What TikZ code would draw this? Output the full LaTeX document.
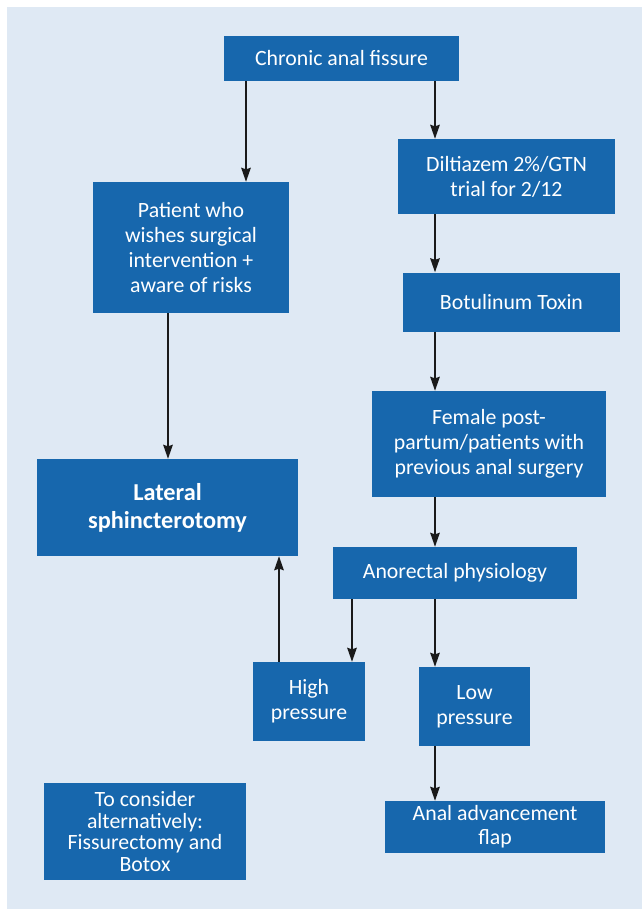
\documentclass[tikz,border=0pt]{standalone}
\usepackage{fontspec}
\setmainfont{Carlito}
\usetikzlibrary{arrows.meta}
\definecolor{bgpanel}{HTML}{DFE9F4}
\definecolor{boxblue}{HTML}{1767AD}
\definecolor{arrcol}{HTML}{1A1A1A}
\begin{document}
\begin{tikzpicture}[x=1pt,y=-1pt,
  box/.style={fill=boxblue, text=white, align=center, inner sep=0pt, font=\fontsize{21.8}{25.2}\selectfont},
  arr/.style={draw=arrcol, line width=1.8pt, -{Stealth[length=14pt,width=9.5pt,inset=1.5pt]}}]
\useasboundingbox (0,0) rectangle (642,909);
\fill[white] (0,0) rectangle (642,909);
\fill[bgpanel] (7,7) rectangle (642,909);

\node[box, minimum width=235pt, minimum height=45pt] (chronic) at (341.5,58.5) {Chronic anal fissure};
\node[box, minimum width=217pt, minimum height=75pt] (dilt) at (506.5,176.5) {Diltiazem 2\%/GTN\\trial for 2/12};
\node[box, minimum width=196pt, minimum height=131pt] (patient) at (191,247.5) {Patient who\\wishes surgical\\intervention +\\aware of risks};
\node[box, minimum width=217pt, minimum height=59pt] (botox) at (511.5,302) {Botulinum Toxin};
\node[box, minimum width=234pt, minimum height=106pt] (female) at (489,444) {Female post-\\partum/patients with\\previous anal surgery};
\node[box, minimum width=261pt, minimum height=97pt, font=\fontsize{24.3}{28}\selectfont\bfseries] (lateral) at (167.5,507.5) {Lateral\\sphincterotomy};
\node[box, minimum width=244pt, minimum height=52pt] (anorectal) at (455,573) {Anorectal physiology};
\node[box, minimum width=112pt, minimum height=79pt] (high) at (309,701.5) {High\\pressure};
\node[box, minimum width=111pt, minimum height=79pt] (low) at (474.5,706.5) {Low\\pressure};
\node[box, minimum width=220pt, minimum height=52pt, font=\fontsize{21.8}{24}\selectfont] (flap) at (495,827) {Anal advancement\\flap};
\node[box, minimum width=202pt, minimum height=97pt, font=\fontsize{21.8}{21.5}\selectfont] (consider) at (145,831.5) {To consider\\alternatively:\\Fissurectomy and\\Botox};

\coordinate (xa) at (246,0);
\coordinate (xb) at (435,0);
\coordinate (xc) at (168,0);
\coordinate (xd) at (352,0);
\coordinate (xe) at (279,0);

\draw[arr] (chronic.south -| xa) -- (patient.north -| xa);
\draw[arr] (chronic.south -| xb) -- (dilt.north -| xb);
\draw[arr] (dilt.south -| xb) -- (botox.north -| xb);
\draw[arr] (botox.south -| xb) -- (female.north -| xb);
\draw[arr] (patient.south -| xc) -- (lateral.north -| xc);
\draw[arr] (female.south -| xb) -- (anorectal.north -| xb);
\draw[arr] (anorectal.south -| xd) -- (high.north -| xd);
\draw[arr] (anorectal.south -| xb) -- (low.north -| xb);
\draw[arr] (high.north -| xe) -- (lateral.south -| xe);
\draw[arr] (low.south -| xb) -- (flap.north -| xb);
\end{tikzpicture}
\end{document}
